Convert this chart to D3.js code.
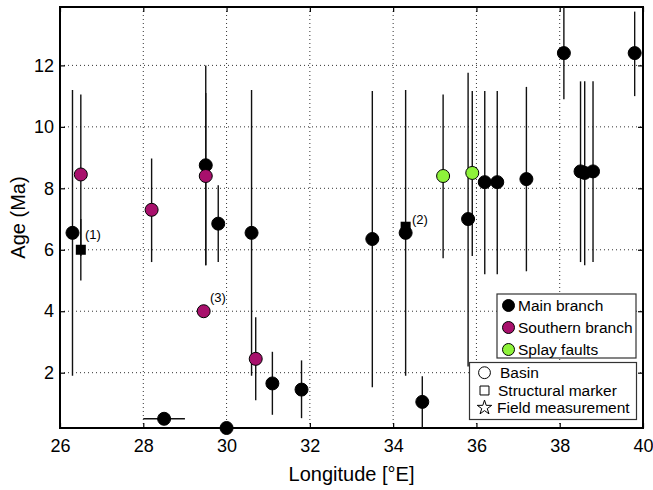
<!DOCTYPE html>
<html>
<head>
<meta charset="utf-8">
<script src="https://cdn.jsdelivr.net/npm/d3@7"></script>
<style>
  body { margin: 0; background: #fff; }
  text { font-family: "Liberation Sans", Arial, sans-serif; }
</style>
</head>
<body>
<div id="viz"></div>
<script>
"use strict";
// main branch (black circles)
const mainLon = [26.3, 28.5, 29.5, 29.8, 30.0, 30.6, 31.1, 31.8, 33.5, 34.3, 34.7, 35.8, 36.2, 36.5, 37.2, 38.1, 38.5, 38.6, 38.8, 39.8]
const mainAge = [6.55, 0.5, 8.75, 6.85, 0.2, 6.55, 1.65, 1.45, 6.35, 6.55, 1.05, 7.0, 8.2, 8.2, 8.3, 12.4, 8.55, 8.5, 8.55, 12.4]
const mainLo  = [1.9, null, 5.5, 5.6, null, 1.9, 0.63, 0.52, 1.53, 1.9, 0.0, 2.2, 5.2, 5.2, 5.3, 10.9, 5.6, 5.5, 5.6, 11.0]
const mainHi  = [11.2, null, 12.0, 8.1, null, 11.2, 2.68, 2.4, 11.17, 11.2, 1.88, 11.76, 11.17, 11.17, 11.3, 14.5, 11.48, 11.48, 11.48, 13.75]
// horizontal bar for the 28.5 point
const hBarLon = [28.0, 29.0]
const hBarAge = 0.5

// southern branch (purple circles)
const southLon = [26.5, 28.2, 29.5, 29.45, 30.7]
const southAge = [8.45, 7.3, 8.4, 4.0, 2.45]
const southLo  = [5.8, 5.6, 5.5, null, 1.1]
const southHi  = [11.05, 8.97, 11.1, null, 3.8]

// splay faults (green circles)
const splayLon = [35.2, 35.9]
const splayAge = [8.4, 8.5]
const splayLo  = [5.72, 5.8]
const splayHi  = [11.05, 11.17]

// structural markers (squares)
const squareLon = [26.5, 34.3]
const squareAge = [6.0, 6.75]
const squareLo  = [5.0, null]
const squareHi  = [7.0, null]

// labels
const noteText = ["(1)", "(2)", "(3)"]
const noteLon  = [26.6, 34.45, 29.6]
const noteAge  = [6.35, 6.85, 4.3]

const xTicks = [26, 28, 30, 32, 34, 36, 38, 40]
const yTicks = [2, 4, 6, 8, 10, 12]

const colors = { main: "#000000", south: "#a8106c", splay: "#8ef23a" }

const groupNames = ["Main branch", "Southern branch", "Splay faults"]
const groupColors = [colors.main, colors.south, colors.splay]
const typeNames = ["Basin", "Structural marker", "Field measurement"]

const measurements = { width: 653, height: 490, left: 60, right: 643, top: 7, bottom: 428 }

const svg = d3.select("#viz").append("svg")
    .attr("width", measurements.width)
    .attr("height", measurements.height)

const scaleX = d3.scaleLinear().domain([26, 40]).range([measurements.left, measurements.right])
const scaleY = d3.scaleLinear().domain([0.2, 13.9]).range([measurements.bottom, measurements.top])

svg.append("defs").append("clipPath").attr("id", "plot-clip")
    .append("rect")
    .attr("x", measurements.left).attr("y", measurements.top)
    .attr("width", measurements.right - measurements.left)
    .attr("height", measurements.bottom - measurements.top)

// grid
const grid = svg.append("g")
grid.selectAll(".gx").data(xTicks.slice(1, -1)).enter().append("line")
    .attr("x1", d => scaleX(d)).attr("x2", d => scaleX(d))
    .attr("y1", measurements.top).attr("y2", measurements.bottom)
    .attr("stroke", "#333").attr("stroke-width", 1).attr("stroke-dasharray", "1,3")
grid.selectAll(".gy").data(yTicks).enter().append("line")
    .attr("x1", measurements.left).attr("x2", measurements.right)
    .attr("y1", d => scaleY(d)).attr("y2", d => scaleY(d))
    .attr("stroke", "#333").attr("stroke-width", 1).attr("stroke-dasharray", "1,3")

// axes
svg.append("g")
    .attr("transform", "translate(0," + measurements.bottom + ")")
    .call(d3.axisBottom(scaleX).tickValues(xTicks).tickFormat(d3.format("d"))
        .tickSizeInner(-5).tickSizeOuter(0).tickPadding(11))
svg.append("g")
    .attr("transform", "translate(0," + measurements.top + ")")
    .call(d3.axisTop(scaleX).tickValues(xTicks).tickFormat("").tickSizeInner(-5).tickSizeOuter(0))
svg.append("g")
    .attr("transform", "translate(" + measurements.left + ",0)")
    .call(d3.axisLeft(scaleY).tickValues(yTicks).tickFormat(d3.format("d"))
        .tickSizeInner(-5).tickSizeOuter(0).tickPadding(6))
svg.append("g")
    .attr("transform", "translate(" + measurements.right + ",0)")
    .call(d3.axisRight(scaleY).tickValues(yTicks).tickFormat("").tickSizeInner(-5).tickSizeOuter(0))

svg.selectAll(".domain").remove()
svg.selectAll(".tick line").attr("stroke", "#000").attr("stroke-width", 1.2)
svg.selectAll(".tick text").attr("font-size", 18).attr("fill", "#000")
    .style("font-family", "'Liberation Sans', Arial, sans-serif")

// box
svg.append("rect")
    .attr("x", measurements.left).attr("y", measurements.top)
    .attr("width", measurements.right - measurements.left)
    .attr("height", measurements.bottom - measurements.top)
    .attr("fill", "none").attr("stroke", "#000").attr("stroke-width", 2)

const plot = svg.append("g").attr("clip-path", "url(#plot-clip)")

function toRows(lon, age, lo, hi, color) {
    return lon.map((v, i) => ({ lon: v, age: age[i], lo: lo[i], hi: hi[i], color: color }))
}
const mainRows = toRows(mainLon, mainAge, mainLo, mainHi, colors.main)
const southRows = toRows(southLon, southAge, southLo, southHi, colors.south)
const splayRows = toRows(splayLon, splayAge, splayLo, splayHi, colors.splay)
const squareRows = toRows(squareLon, squareAge, squareLo, squareHi, colors.main)

// error bars first
const allRows = mainRows.concat(southRows, splayRows, squareRows).filter(d => d.lo !== null)
plot.selectAll(".ebar").data(allRows).enter().append("line")
    .attr("x1", d => scaleX(d.lon)).attr("x2", d => scaleX(d.lon))
    .attr("y1", d => scaleY(d.lo)).attr("y2", d => scaleY(d.hi))
    .attr("stroke", "#111").attr("stroke-width", 1.4)

plot.append("line")
    .attr("x1", scaleX(hBarLon[0])).attr("x2", scaleX(hBarLon[1]))
    .attr("y1", scaleY(hBarAge)).attr("y2", scaleY(hBarAge))
    .attr("stroke", "#111").attr("stroke-width", 1.4)

// squares
svg.selectAll(".sq").data(squareRows).enter().append("rect")
    .attr("x", d => scaleX(d.lon) - 5).attr("y", d => scaleY(d.age) - 5)
    .attr("width", 10).attr("height", 10)
    .attr("fill", "#000")

// circles
const circleRows = mainRows.concat(southRows, splayRows)
svg.selectAll(".pt").data(circleRows).enter().append("circle")
    .attr("cx", d => scaleX(d.lon)).attr("cy", d => scaleY(d.age))
    .attr("r", 6.5)
    .attr("fill", d => d.color)
    .attr("stroke", "#000").attr("stroke-width", 1)

// notes
svg.selectAll(".note").data(noteText).enter().append("text")
    .attr("x", (d, i) => scaleX(noteLon[i]))
    .attr("y", (d, i) => scaleY(noteAge[i]))
    .attr("font-size", 13)
    .attr("fill", "#000")
    .text(d => d)

// axis labels
svg.append("text")
    .attr("x", (measurements.left + measurements.right) / 2)
    .attr("y", 481)
    .attr("text-anchor", "middle")
    .attr("font-size", 20)
    .text("Longitude [°E]")

svg.append("text")
    .attr("transform", "translate(25," + (measurements.top + measurements.bottom) / 2 + ") rotate(-90)")
    .attr("text-anchor", "middle")
    .attr("font-size", 20)
    .text("Age (Ma)")

// legend: groups
const leg1 = svg.append("g")
leg1.append("rect")
    .attr("x", 497).attr("y", 294).attr("width", 139).attr("height", 64)
    .attr("fill", "#fff").attr("stroke", "#333").attr("stroke-width", 1.2)
groupNames.forEach((name, i) => {
    const cy = 305.5 + i * 22
    leg1.append("circle").attr("cx", 508.5).attr("cy", cy).attr("r", 6)
        .attr("fill", groupColors[i]).attr("stroke", "#000").attr("stroke-width", 1)
    leg1.append("text").attr("x", 518).attr("y", cy + 5.5)
        .attr("font-size", 15.5).text(name)
})

// legend: marker types
const leg2 = svg.append("g")
leg2.append("rect")
    .attr("x", 469.5).attr("y", 362.5).attr("width", 167).attr("height", 57)
    .attr("fill", "#fff").attr("stroke", "#333").attr("stroke-width", 1.2)
const typeY = [372.7, 390.5, 407.7]
const typeTextX = [500, 498, 497]
const typeSymbols = [d3.symbolCircle, d3.symbolSquare, d3.symbolStar]
const typeSizes = [110, 80, 65]
typeNames.forEach((name, i) => {
    leg2.append("path")
        .attr("transform", "translate(484.5," + typeY[i] + ")")
        .attr("d", d3.symbol().type(typeSymbols[i]).size(typeSizes[i])())
        .attr("fill", "none").attr("stroke", "#000").attr("stroke-width", 1)
    leg2.append("text").attr("x", typeTextX[i]).attr("y", typeY[i] + 5.5)
        .attr("font-size", 15.5).text(name)
})
</script>
</body>
</html>
